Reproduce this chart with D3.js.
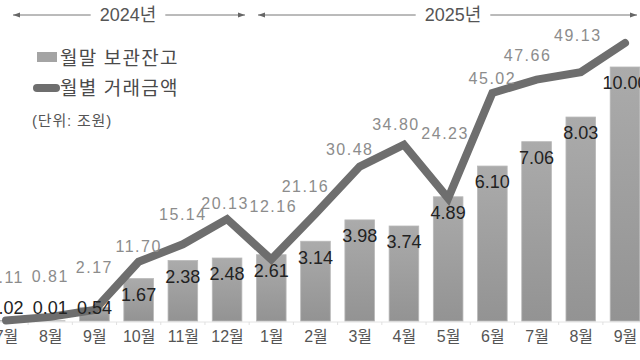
<!DOCTYPE html>
<html><head><meta charset="utf-8">
<script src="https://cdn.jsdelivr.net/npm/d3@7"></script>
<style>
html,body{margin:0;padding:0;background:#fff;}
svg{display:block;font-family:"Liberation Sans","Noto Sans CJK KR",sans-serif;}
</style></head>
<body><svg id="c" width="640" height="360"></svg>
<script>
// ---- data ----
const months = ["7월","8월","9월","10월","11월","12월","1월","2월","3월","4월","5월","6월","7월","8월","9월"];
const balance = [0.02,0.01,0.54,1.67,2.38,2.48,2.61,3.14,3.98,3.74,4.89,6.10,7.06,8.03,10.00];   // 월말 보관잔고
const volume  = [0.11,0.81,2.17,11.70,15.14,20.13,12.16,21.16,30.48,34.80,24.23,45.02,47.66,49.13,54.9]; // 월별 거래금액
const showVolumeLabel = [true,true,true,true,true,true,true,true,true,true,true,true,true,true,false];
const years = [{label:"2024년", from:0, to:5},{label:"2025년", from:6, to:14}];
const legendItems = ["월말 보관잔고","월별 거래금액"];
const unitText = "(단위: 조원)";
// label nudges (layout only)
const volLabelNudge = [[0,-43],[0,-40],[0,-43],[0,-15],[0,-30],[-2,-16],[2,-53],[-10,-27],[-10,-17],[-8,-20],[-3,-65],[0,-15],[-9,-24],[-3,-37],[0,-15]];

const svg = d3.select("#c");
const x = d3.scalePoint().domain(d3.range(months.length)).range([6, 625]);
const step = x.step();
const barW = step*0.67;
const yBar = d3.scaleLinear().domain([0,10]).range([321,67]);
const yLine = d3.scaleLinear().domain([0,45.02]).range([321,93]);

// gradient
const defs = svg.append("defs");
const g = defs.append("linearGradient").attr("id","bg").attr("x1",0).attr("y1",0).attr("x2",0).attr("y2",1);
g.append("stop").attr("offset","0%").attr("stop-color","#ababab");
g.append("stop").attr("offset","100%").attr("stop-color","#939393");
const mk = defs.append("marker").attr("id","arr").attr("viewBox","0 0 10 10").attr("refX",10).attr("refY",5)
  .attr("markerWidth",7).attr("markerHeight",7).attr("orient","auto-start-reverse").attr("markerUnits","userSpaceOnUse");
mk.append("path").attr("d","M0,1.5L10,5L0,8.5Z").attr("fill","#666");

// axis
const axis = d3.axisBottom(x).tickSize(0).tickPadding(6).tickFormat(i=>months[i]);
const ax = svg.append("g").attr("transform","translate(0,322)").call(axis);
ax.select(".domain").attr("stroke","#e4e4e4").attr("d","M-20,0H660");
ax.selectAll("text").attr("font-size",16).attr("fill","#555").attr("dy","0.85em")
  .attr("font-family","'Liberation Sans','Noto Sans CJK KR',sans-serif");
// minor ticks between categories
svg.append("g").selectAll("line").data(d3.range(months.length+1)).join("line")
  .attr("x1",i=>x(0)-step/2+i*step).attr("x2",i=>x(0)-step/2+i*step)
  .attr("y1",322).attr("y2",325).attr("stroke","#e0e0e0");

// bars
svg.append("g").selectAll("rect").data(balance).join("rect")
  .attr("x",(d,i)=>x(i)-barW/2).attr("width",barW)
  .attr("y",d=>yBar(d)).attr("height",d=>yBar(0)-yBar(d))
  .attr("fill","url(#bg)").attr("stroke","#b8b8b8").attr("stroke-width",0.8);

// line
const line = d3.line().x((d,i)=>x(i)).y(d=>yLine(d));
svg.append("path").datum(volume).attr("d",line).attr("fill","none")
  .attr("stroke","#6e6e6e").attr("stroke-width",8).attr("stroke-linejoin","miter").attr("stroke-linecap","round");

// bar labels
svg.append("g").selectAll("text").data(balance).join("text")
  .attr("x",(d,i)=>x(i)).attr("y",d=>Math.min(yBar(d)+16,308))
  .attr("dy","0.35em").attr("text-anchor","middle").attr("font-size",18)
  .attr("fill","#222").text(d=>d.toFixed(2));

// line labels
svg.append("g").selectAll("text").data(volume.map((v,i)=>({v,i})).filter(d=>showVolumeLabel[d.i])).join("text")
  .attr("x",d=>x(d.i)+volLabelNudge[d.i][0]).attr("y",d=>yLine(d.v)+volLabelNudge[d.i][1])
  .attr("dy","0.35em").attr("text-anchor","middle").attr("font-size",16)
  .attr("fill","#8c8c8c").attr("letter-spacing",1.5).text(d=>d.v.toFixed(2));

// year headers
const hdr = svg.append("g");
years.forEach((yr,k)=>{
  const left = k===0 ? 13 : 258;
  const right = k===0 ? 245 : 637;
  const cx = k===0 ? 128 : 453;
  const t = hdr.append("text").attr("x",cx).attr("y",15).attr("dy","0.35em").attr("text-anchor","middle")
    .attr("font-size",18).attr("fill","#555").text(yr.label);
  const w = t.node().getComputedTextLength();
  hdr.append("line").attr("x1",cx-w/2-9).attr("x2",left).attr("y1",15).attr("y2",15)
    .attr("stroke","#777").attr("stroke-width",1).attr("marker-end","url(#arr)");
  hdr.append("line").attr("x1",cx+w/2+9).attr("x2",right).attr("y1",15).attr("y2",15)
    .attr("stroke","#777").attr("stroke-width",1).attr("marker-end","url(#arr)");
});

// legend
const lg = svg.append("g");
lg.append("rect").attr("x",37).attr("y",52).attr("width",20).attr("height",10).attr("fill","#a4a4a4");
lg.append("line").attr("x1",37).attr("x2",56).attr("y1",88).attr("y2",88).attr("stroke","#6e6e6e").attr("stroke-width",8).attr("stroke-linecap","round");
lg.selectAll("text.l").data(legendItems).join("text").attr("class","l")
  .attr("x",60).attr("y",(d,i)=>65+i*30).attr("font-size",19).attr("fill","#4a4a4a").attr("letter-spacing",1.2).text(d=>d);
lg.append("text").attr("x",32).attr("y",126).attr("font-size",15).attr("fill","#555").attr("letter-spacing",0.8).text(unitText);
</script></body></html>
